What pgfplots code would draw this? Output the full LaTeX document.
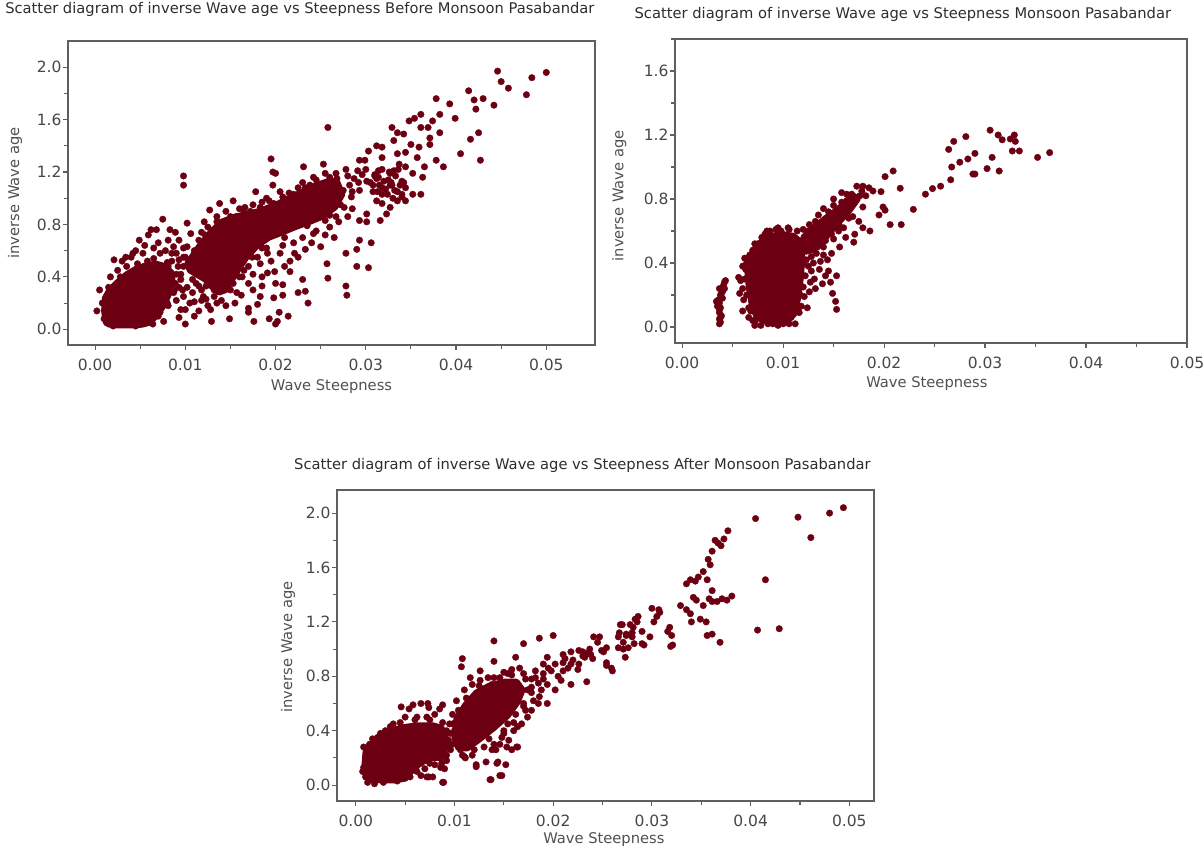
\documentclass[border=0pt]{standalone}
\usepackage{fontspec}
\setmainfont{DejaVu Sans}
\usepackage{pgfplots}
\pgfplotsset{compat=1.18}
\definecolor{dotc}{RGB}{108,0,18}
\definecolor{framec}{RGB}{95,95,95}
\definecolor{titc}{RGB}{45,45,45}
\definecolor{labc}{RGB}{80,80,80}
\definecolor{tickc}{RGB}{70,70,75}
\pgfplotsset{
 myax/.style={
  scale only axis,
  anchor=south west,
  axis line style={draw=framec, line width=1.5pt},
  tick style={draw=framec, line width=1.1pt},
  tick align=outside,
  xtick pos=bottom, ytick pos=left,
  major tick length=5pt, minor tick length=4pt,
  scaled x ticks=false, scaled y ticks=false,
  xtick={0,0.01,0.02,0.03,0.04,0.05},
  xticklabels={0.00,0.01,0.02,0.03,0.04,0.05},
  minor xtick={0.005,0.015,0.025,0.035,0.045},
  ytick={0,0.4,0.8,1.2,1.6,2.0},
  yticklabels={0.0,0.4,0.8,1.2,1.6,2.0},
  minor ytick={0.2,0.6,1.0,1.4,1.8},
  ticklabel style={font=\fontsize{15.5}{18}\selectfont, text=tickc},
  xticklabel style={yshift=-5pt},
  yticklabel style={xshift=2pt},
  label style={font=\fontsize{14.7}{18}\selectfont, text=labc},
  title style={font=\fontsize{14.7}{18}\selectfont, text=titc, anchor=base},
  /pgf/number format/assume math mode=true,
  xlabel={Wave Steepness},
  ylabel={inverse Wave age},
 },
 dots/.style={only marks, mark=*, mark size=3.3pt, mark options={draw=dotc, fill=dotc, line width=0.3pt}},
 blob/.style={draw=dotc, fill=dotc, line width=6pt, line join=round},
}
\begin{document}
\begin{tikzpicture}[x=1pt,y=1pt]
% ---------------- Plot 1: Before Monsoon ----------------
\begin{axis}[myax,
  at={(68pt,504pt)}, width=527pt, height=304pt,
  xmin=-0.003, xmax=0.0554, ymin=-0.12, ymax=2.2,
  title={Scatter diagram of inverse Wave age vs Steepness Before Monsoon Pasabandar},
  title style={at={(axis description cs:0.44,1.072)}},
  xlabel style={at={(axis description cs:0.5,-0.138)}, anchor=center},
  ylabel style={at={(axis description cs:-0.1006,0.5)}, anchor=center},
]
\addplot[blob] coordinates {(0.0012,0.05)(0.0010,0.14)(0.0011,0.24)(0.0016,0.30)(0.0025,0.36)(0.0035,0.42)(0.0045,0.46)(0.0057,0.49)(0.0068,0.50)(0.0078,0.48)(0.0085,0.43)(0.0086,0.36)(0.0082,0.27)(0.0075,0.17)(0.0066,0.09)(0.0060,0.05)(0.0052,0.035)(0.004,0.03)(0.0025,0.03)(0.0016,0.035)} -- cycle;
\addplot[blob] coordinates {(0.0102,0.50)(0.0115,0.63)(0.0128,0.74)(0.0140,0.82)(0.0155,0.86)(0.0170,0.88)(0.0185,0.91)(0.0200,0.95)(0.0215,1.00)(0.0230,1.05)(0.0245,1.10)(0.0258,1.13)(0.0268,1.13)(0.0274,1.03)(0.0266,0.93)(0.0252,0.86)(0.0238,0.82)(0.0222,0.78)(0.0208,0.74)(0.0193,0.70)(0.0180,0.64)(0.0168,0.55)(0.0160,0.47)(0.0152,0.38)(0.0145,0.30)(0.0137,0.28)(0.0130,0.32)(0.0122,0.38)(0.0112,0.42)(0.0105,0.45)} -- cycle;
\addplot[dots] coordinates {
(0.0446,1.97)(0.045,1.89)(0.0458,1.84)(0.05,1.96)(0.0484,1.92)(0.0478,1.79)
(0.0414,1.82)(0.042,1.75)(0.0422,1.68)(0.043,1.76)(0.0442,1.71)(0.0416,1.45)(0.0425,1.50)(0.0405,1.34)(0.0427,1.29)
(0.0399,1.61)(0.0393,1.72)(0.0378,1.76)(0.0382,1.64)(0.0374,1.59)(0.0361,1.64)(0.0354,1.61)(0.0361,1.54)(0.0369,1.54)(0.0348,1.59)(0.0342,1.49)(0.0335,1.50)(0.0329,1.54)(0.0331,1.44)(0.035,1.41)(0.0382,1.50)(0.0371,1.46)(0.0371,1.41)
(0.0312,1.40)(0.0303,1.36)(0.0293,1.29)(0.0318,1.31)(0.0335,1.34)(0.0357,1.31)(0.0378,1.29)(0.0386,1.24)(0.0365,1.24)(0.0352,1.19)(0.0363,1.16)(0.0361,1.03)(0.034,1.01)(0.0344,1.08)(0.0329,1.10)(0.0318,1.08)(0.0331,1.21)(0.0344,1.24)
(0.0312,0.98)(0.0301,0.88)(0.0293,0.83)(0.0301,0.82)(0.0316,0.83)(0.0293,0.68)(0.0306,0.66)(0.029,0.61)(0.029,0.48)(0.0303,0.47)(0.0278,0.58)(0.0278,0.33)(0.0279,0.26)(0.0258,0.39)(0.0257,0.50)(0.0258,1.54)
(0.0236,0.20)(0.0233,0.29)(0.0225,0.28)(0.023,0.38)(0.0216,0.44)(0.0208,0.34)(0.0208,0.26)(0.0198,0.24)(0.0199,0.44)(0.0191,0.43)(0.0185,0.33)(0.0183,0.25)(0.018,0.19)(0.0176,0.06)(0.017,0.16)(0.017,0.13)(0.0193,0.08)(0.0202,0.06)(0.0204,0.13)(0.0214,0.10)(0.0200,0.04)
(0.0195,1.30)(0.0197,1.20)(0.02,1.19)(0.0197,1.10)(0.0178,1.05)(0.0153,0.98)(0.0127,0.91)(0.0121,0.82)(0.0102,0.81)(0.0098,1.17)(0.0098,1.10)(0.0089,0.74)(0.0083,0.76)(0.0075,0.84)(0.0059,0.72)(0.007,0.66)(0.0049,0.68)(0.0042,0.58)(0.003,0.52)(0.0017,0.40)(0.0005,0.30)(0.0002,0.14)(0.0013,0.25)
(0.0076,0.06)(0.0093,0.09)(0.01,0.04)(0.01,0.15)(0.011,0.21)(0.0115,0.14)(0.0129,0.06)(0.0123,0.33)(0.0149,0.08)(0.0157,0.28)(0.017,0.35)(0.0153,0.35)
(0.0231,1.24)(0.0253,1.26)(0.0267,1.19)(0.0278,1.22)(0.0291,1.21)(0.0299,1.29)(0.0263,1.10)(0.0248,1.08)(0.0233,1.08)(0.022,1.03)(0.0212,0.95)(0.031,1.17)(0.0301,1.13)(0.0293,1.06)(0.0284,1.01)(0.0276,0.93)(0.0267,0.86)(0.0255,0.83)(0.0242,0.73)(0.025,0.63)(0.0233,0.61)(0.0221,0.58)(0.0216,0.52)(0.0208,0.64)(0.0191,0.58)(0.0183,0.50)(0.0174,0.55)(0.0161,0.50)(0.0151,0.48)(0.0144,0.38)(0.0132,0.30)(0.0123,0.23)(0.0115,0.33)(0.0106,0.45)(0.0098,0.48)(0.0093,0.53)(0.0085,0.58)(0.0102,0.63)(0.0115,0.68)(0.0132,0.76)(0.0144,0.81)(0.0157,0.86)(0.0166,0.93)(0.0183,0.93)(0.0193,0.98)(0.0208,1.01)(0.0225,1.08)(0.0242,1.16)(0.0255,1.19)
(0.0318,0.96)(0.0335,0.98)(0.0327,0.93)(0.0323,0.88)(0.0344,0.98)(0.0352,1.03)(0.034,1.13)(0.0327,1.19)(0.0314,1.21)(0.0308,1.05)(0.0337,1.26)(0.0344,1.35)(0.0359,1.39)(0.0318,1.39)
(0.0021,0.53)(0.0034,0.55)(0.0062,0.76)(0.0068,0.76)(0.004,0.55)(0.0053,0.58)(0.0081,0.68)(0.0087,0.63)(0.0093,0.68)(0.0106,0.73)(0.0081,0.48)(0.0087,0.28)(0.0081,0.18)(0.0072,0.13)(0.0064,0.04)(0.0055,0.05)(0.0089,0.35)
(0.0315,1.10)(0.0322,1.07)(0.0328,1.12)(0.0335,1.05)(0.0318,1.03)(0.0308,1.10)(0.0325,1.14)(0.0312,1.15)(0.0330,1.0)(0.0342,1.12)
(0.0282,1.10)(0.0287,1.15)(0.0292,1.12)(0.0285,1.05)(0.0296,1.18)(0.0280,1.17)
(0.0305,1.12)(0.0310,1.18)(0.0318,1.22)(0.0326,1.20)(0.0333,1.17)(0.0338,1.10)(0.0332,1.06)(0.0324,1.03)(0.0313,1.05)(0.0320,1.13)(0.0327,1.10)(0.0314,1.16)(0.0336,1.22)(0.0300,1.22)(0.0340,1.03)
(0.0008,0.20)(0.0015,0.32)(0.0028,0.40)(0.0047,0.50)(0.0065,0.54)(0.0080,0.51)(0.0090,0.42)(0.0088,0.30)(0.0080,0.20)(0.0070,0.10)(0.0045,0.025)(0.0020,0.025)(0.0010,0.08)(0.0058,0.52)(0.0025,0.45)(0.0035,0.48)(0.0095,0.38)(0.0097,0.30)
(0.0095,0.42)(0.0098,0.55)(0.0110,0.60)(0.0122,0.72)(0.0135,0.82)(0.015,0.86)(0.0165,0.89)(0.018,0.88)(0.0198,0.96)(0.0222,1.02)(0.0238,1.10)(0.0268,1.15)(0.0275,1.06)(0.0272,0.95)(0.026,0.87)(0.0235,0.79)(0.021,0.70)(0.0185,0.62)(0.0170,0.48)(0.0163,0.40)(0.0150,0.30)(0.0140,0.22)(0.0132,0.25)(0.0118,0.30)(0.0108,0.38)
(0.0090,0.22)(0.0095,0.15)(0.0098,0.25)(0.0102,0.32)(0.0105,0.20)(0.0108,0.28)(0.0112,0.35)(0.0118,0.22)(0.0092,0.48)(0.0100,0.55)(0.0085,0.52)(0.0105,0.52)(0.0120,0.25)(0.0125,0.18)(0.0110,0.10)(0.0093,0.32)(0.0090,0.58)(0.0078,0.60)(0.0072,0.58)(0.0065,0.62)(0.0055,0.64)(0.0045,0.60)(0.0098,0.62)(0.0112,0.50)
(0.0125,0.78)(0.0135,0.86)(0.0145,0.90)(0.0160,0.92)(0.0175,0.95)(0.0190,1.00)(0.0205,1.05)(0.0138,0.96)(0.0118,0.74)(0.0172,0.90)(0.0185,0.97)(0.0215,1.04)(0.0230,1.12)(0.0245,1.14)(0.0260,1.16)
(0.0160,0.40)(0.0165,0.45)(0.0175,0.42)(0.0180,0.55)(0.0190,0.62)(0.0195,0.52)(0.0205,0.58)(0.0210,0.48)(0.0220,0.66)(0.0225,0.55)(0.0230,0.70)(0.0240,0.66)(0.0245,0.75)(0.0255,0.72)(0.0260,0.78)(0.0265,0.70)(0.0270,0.82)(0.0280,0.86)(0.0285,0.92)(0.0175,0.30)(0.0185,0.40)(0.0200,0.35)(0.0155,0.20)(0.0162,0.26)(0.0145,0.18)(0.0135,0.20)(0.0128,0.15)
};
\end{axis}
% ---------------- Plot 2: Monsoon ----------------
\begin{axis}[myax,
  at={(675pt,506pt)}, width=512pt, height=304pt,
  xmin=-0.0007, xmax=0.05, ymin=-0.1, ymax=1.8,
  title={Scatter diagram of inverse Wave age vs Steepness Monsoon Pasabandar},
  title style={at={(axis description cs:0.445,1.049)}},
  xlabel style={at={(axis description cs:0.492,-0.132)}, anchor=center},
  ylabel style={at={(axis description cs:-0.109,0.484)}, anchor=center},
]
\addplot[blob] coordinates {(0.0064,0.40)(0.0070,0.47)(0.0078,0.53)(0.0088,0.57)(0.0100,0.58)(0.0110,0.57)(0.0116,0.54)(0.0119,0.46)(0.0118,0.33)(0.0115,0.18)(0.0111,0.08)(0.0104,0.04)(0.0095,0.035)(0.0082,0.035)(0.0074,0.06)(0.0069,0.14)(0.0066,0.25)} -- cycle;
\addplot[blob] coordinates {(0.0120,0.56)(0.0130,0.62)(0.0142,0.68)(0.0153,0.73)(0.0162,0.78)(0.0170,0.82)(0.0174,0.80)(0.0166,0.73)(0.0156,0.66)(0.0146,0.59)(0.0138,0.52)(0.0128,0.48)(0.0122,0.47)} -- cycle;
\addplot[dots] coordinates {
(0.0305,1.23)(0.0313,1.20)(0.0317,1.17)(0.0325,1.175)(0.0329,1.20)(0.033,1.16)(0.0327,1.10)(0.0334,1.10)(0.0352,1.06)(0.0364,1.09)(0.0307,1.06)(0.0302,0.99)(0.0314,0.975)(0.0288,0.956)(0.029,0.956)(0.029,1.085)(0.0283,1.05)(0.0275,1.03)(0.0267,1.0)(0.0266,0.92)(0.0264,1.11)(0.0269,1.16)(0.0281,1.19)(0.0256,0.88)(0.0248,0.865)(0.0241,0.83)(0.0229,0.735)(0.0217,0.64)(0.0206,0.64)(0.0216,0.867)(0.0209,0.975)(0.0201,0.94)(0.0197,0.846)(0.0199,0.75)(0.0201,0.73)
(0.0195,0.70)(0.0189,0.85)(0.0186,0.60)(0.0179,0.62)(0.0171,0.58)(0.0170,0.53)(0.0175,0.66)(0.0179,0.75)(0.0169,0.69)(0.0182,0.82)(0.0173,0.88)(0.0179,0.88)(0.0163,0.83)(0.0162,0.56)(0.0153,0.32)(0.0147,0.28)(0.0149,0.21)(0.0152,0.16)(0.0153,0.11)(0.0145,0.35)(0.0139,0.27)(0.0131,0.30)(0.0137,0.41)(0.0144,0.42)(0.0148,0.46)(0.0156,0.50)(0.0133,0.46)(0.0125,0.38)(0.0121,0.19)(0.0118,0.13)(0.0116,0.09)(0.0106,0.02)(0.0072,0.01)(0.0060,0.10)(0.0057,0.21)(0.0056,0.31)(0.006,0.38)(0.0062,0.43)(0.0087,0.60)(0.0098,0.60)(0.0106,0.61)(0.0114,0.60)(0.0129,0.54)(0.0140,0.50)(0.0148,0.58)(0.0156,0.63)(0.0148,0.69)(0.0156,0.74)(0.015,0.76)(0.0163,0.79)
(0.0034,0.16)(0.0035,0.13)(0.0037,0.05)(0.0037,0.02)(0.0037,0.09)(0.0038,0.20)(0.0037,0.24)(0.0040,0.22)(0.0041,0.26)(0.0042,0.28)(0.0043,0.29)(0.0040,0.18)(0.0038,0.12)(0.0037,0.15)(0.0036,0.17)(0.0039,0.07)(0.0038,0.03)(0.0042,0.24)(0.0037,0.11)(0.0038,0.06)
(0.0058,0.29)(0.006,0.24)(0.0061,0.17)(0.0063,0.36)(0.0064,0.40)(0.0067,0.45)(0.007,0.48)(0.0075,0.52)(0.0068,0.10)(0.007,0.04)(0.0078,0.01)(0.0085,0.02)(0.0095,0.01)(0.0102,0.03)(0.0108,0.06)(0.0117,0.20)(0.012,0.25)(0.0122,0.32)(0.0124,0.12)(0.0118,0.38)(0.0084,0.60)(0.0093,0.61)(0.0079,0.56)(0.0066,0.06)(0.0112,0.02)(0.0123,0.42)(0.0127,0.28)
(0.0125,0.60)(0.0132,0.66)(0.0138,0.62)(0.0145,0.72)(0.0152,0.68)(0.0158,0.78)(0.0165,0.76)(0.0168,0.83)(0.0176,0.82)(0.0185,0.87)(0.0135,0.55)(0.0142,0.58)(0.0128,0.50)(0.0136,0.36)(0.0142,0.32)(0.0130,0.40)(0.0126,0.22)(0.0132,0.24)(0.0128,0.35)(0.0160,0.70)(0.0168,0.76)(0.0178,0.85)(0.0172,0.79)
(0.0062,0.30)(0.0064,0.20)(0.0066,0.12)(0.0072,0.03)(0.0090,0.02)(0.0100,0.02)(0.0115,0.12)(0.0120,0.50)(0.0105,0.62)(0.0095,0.62)(0.0082,0.58)(0.0072,0.52)(0.0122,0.55)(0.0120,0.40)
(0.0135,0.70)(0.0140,0.74)(0.0150,0.80)(0.0158,0.84)(0.0148,0.64)(0.0142,0.54)(0.0150,0.55)(0.0155,0.60)(0.0160,0.62)(0.0165,0.68)(0.0130,0.56)(0.0126,0.64)(0.0120,0.61)(0.0140,0.45)(0.0134,0.50)(0.0128,0.44)
};
\end{axis}
% ---------------- Plot 3: After Monsoon ----------------
\begin{axis}[myax,
  at={(337pt,48pt)}, width=537pt, height=311pt,
  xmin=-0.0019, xmax=0.0525, ymin=-0.117, ymax=2.17,
  title={Scatter diagram of inverse Wave age vs Steepness After Monsoon Pasabandar},
  title style={at={(axis description cs:0.457,1.048)}},
  xlabel style={at={(axis description cs:0.497,-0.125)}, anchor=center},
  ylabel style={at={(axis description cs:-0.091,0.495)}, anchor=center},
]
\addplot[blob] coordinates {(0.0010,0.06)(0.0009,0.16)(0.0010,0.25)(0.0015,0.30)(0.0022,0.33)(0.0030,0.37)(0.0040,0.41)(0.0052,0.43)(0.0065,0.44)(0.0078,0.44)(0.0087,0.42)(0.0091,0.36)(0.0091,0.27)(0.0087,0.20)(0.0076,0.20)(0.0065,0.16)(0.0055,0.09)(0.0048,0.045)(0.0040,0.035)(0.0025,0.035)(0.0015,0.04)} -- cycle;
\addplot[blob] coordinates {(0.0102,0.49)(0.0111,0.59)(0.0122,0.68)(0.0135,0.73)(0.0150,0.76)(0.0163,0.76)(0.0169,0.70)(0.0164,0.61)(0.0154,0.51)(0.0140,0.42)(0.0126,0.34)(0.0113,0.27)(0.0104,0.27)(0.0100,0.35)} -- cycle;
\addplot[dots] coordinates {
(0.0494,2.04)(0.048,2.0)(0.0448,1.97)(0.0461,1.82)(0.0405,1.96)(0.0415,1.51)(0.0407,1.14)(0.0429,1.15)
(0.0377,1.87)(0.0373,1.81)(0.0367,1.78)(0.0364,1.80)(0.0370,1.76)(0.0361,1.72)(0.0357,1.66)(0.0359,1.62)(0.0352,1.57)(0.0347,1.53)(0.0344,1.50)(0.0339,1.51)(0.0335,1.48)(0.0356,1.51)(0.0361,1.43)
(0.0381,1.39)(0.0376,1.36)(0.0371,1.37)(0.0361,1.35)(0.0352,1.32)(0.0345,1.36)(0.0342,1.38)(0.0329,1.32)(0.0335,1.29)(0.0339,1.26)(0.034,1.20)(0.0349,1.22)(0.0355,1.20)(0.0356,1.10)(0.0361,1.11)(0.0369,1.05)(0.0366,1.35)(0.0358,1.37)
(0.0318,1.16)(0.0316,1.13)(0.0321,1.03)(0.0319,1.02)(0.0320,1.10)(0.0307,1.29)(0.0300,1.30)(0.0305,1.24)(0.0302,1.20)(0.0298,1.09)(0.0292,1.03)(0.0285,1.20)(0.0281,1.16)(0.0278,1.18)(0.0274,1.10)(0.028,1.09)(0.0271,1.05)(0.0271,1.0)(0.0273,0.94)(0.0268,1.18)(0.0267,1.12)(0.0308,1.27)(0.0286,1.24)(0.029,1.13)(0.029,1.04)(0.0282,1.04)(0.0276,1.01)(0.0266,1.01)(0.0266,1.09)(0.027,1.18)(0.0283,1.22)(0.028,1.12)(0.0274,1.11)
(0.0259,0.86)(0.0254,0.88)(0.0251,0.98)(0.0241,1.09)(0.0247,1.09)(0.0234,0.76)(0.023,0.98)(0.0237,1.0)(0.0260,0.84)(0.0254,0.90)(0.0249,0.99)(0.0238,0.96)(0.0232,0.94)(0.0226,0.99)(0.0218,0.98)(0.021,0.96)(0.020,1.10)(0.0186,1.08)(0.0170,1.04)(0.0162,0.94)(0.014,1.06)(0.014,0.91)(0.0108,0.93)(0.0107,0.87)(0.0126,0.84)
(0.0202,0.89)(0.0208,0.77)(0.0198,0.84)(0.019,0.89)(0.0182,0.79)(0.0174,0.70)(0.017,0.60)(0.0162,0.52)(0.0164,0.43)(0.0154,0.45)(0.015,0.38)(0.0146,0.30)(0.0142,0.26)(0.0132,0.17)(0.0144,0.17)(0.0152,0.15)(0.0148,0.07)(0.0137,0.04)(0.0122,0.15)(0.011,0.21)(0.0106,0.26)(0.0164,0.28)(0.0158,0.26)(0.0138,0.26)(0.0088,0.02)(0.0074,0.06)(0.0066,0.16)(0.009,0.12)(0.009,0.26)
(0.0202,0.70)(0.0218,0.74)(0.0194,0.74)(0.0178,0.72)(0.0186,0.65)(0.0178,0.55)(0.0174,0.50)(0.0194,0.60)(0.021,0.84)(0.0218,0.89)(0.0226,0.89)(0.0194,0.94)(0.0212,0.93)(0.023,0.95)(0.0254,1.01)
(0.0054,0.56)(0.0066,0.60)(0.0074,0.57)(0.0088,0.59)(0.008,0.52)(0.0072,0.50)(0.0062,0.50)(0.005,0.50)(0.0098,0.52)(0.0102,0.62)(0.011,0.70)(0.0118,0.74)(0.0126,0.77)(0.0134,0.79)(0.0146,0.79)(0.0154,0.82)(0.0138,0.74)(0.013,0.65)(0.0126,0.60)(0.0116,0.79)
(0.003,0.40)(0.0022,0.35)(0.0014,0.30)(0.001,0.21)(0.0008,0.13)(0.001,0.06)(0.0019,0.01)(0.0034,0.04)(0.005,0.05)(0.0066,0.07)(0.0078,0.06)(0.0086,0.13)(0.0092,0.18)(0.0098,0.30)(0.0046,0.43)(0.0038,0.45)
(0.0046,0.575)(0.0058,0.59)(0.0073,0.60)(0.0085,0.56)
(0.0075,0.16)(0.0072,0.06)(0.0089,0.02)(0.0111,0.20)(0.0122,0.135)(0.0136,0.04)(0.0146,0.07)(0.0143,0.16)(0.0153,0.28)(0.0163,0.28)
(0.0055,0.06)(0.0062,0.10)(0.0070,0.12)(0.0080,0.15)(0.0087,0.16)(0.0060,0.16)(0.0070,0.18)(0.0092,0.22)(0.0094,0.30)(0.0092,0.40)(0.0088,0.46)(0.0075,0.48)(0.0060,0.48)(0.0045,0.46)(0.0035,0.43)(0.0025,0.38)(0.0017,0.34)(0.0008,0.28)(0.0007,0.10)(0.0012,0.02)(0.0028,0.02)(0.0042,0.03)
(0.0098,0.45)(0.0104,0.55)(0.0112,0.64)(0.0125,0.73)(0.0140,0.79)(0.0158,0.81)(0.0172,0.78)(0.0178,0.68)(0.0170,0.58)(0.0160,0.46)(0.0150,0.40)(0.0135,0.34)(0.0120,0.26)(0.0108,0.22)(0.0185,0.75)(0.0190,0.82)(0.0195,0.86)(0.0205,0.80)(0.0210,0.90)(0.0220,0.92)(0.0225,0.85)(0.0235,0.97)(0.0240,0.93)(0.0245,1.05)(0.0215,0.86)(0.0188,0.70)
(0.0170,0.82)(0.0178,0.78)(0.0166,0.86)(0.0158,0.85)(0.0150,0.83)(0.0182,0.84)(0.0190,0.78)(0.0185,0.60)(0.0180,0.62)(0.0172,0.55)(0.0168,0.45)(0.0160,0.40)(0.0155,0.33)(0.0148,0.35)(0.0140,0.30)(0.0130,0.28)(0.0118,0.22)(0.0110,0.30)(0.0100,0.40)(0.0096,0.38)(0.0096,0.26)(0.0095,0.45)(0.0094,0.33)
};
\end{axis}
\pgfresetboundingbox
\path[use as bounding box] (0,0) rectangle (1204pt,849pt);
\end{tikzpicture}
\end{document}
